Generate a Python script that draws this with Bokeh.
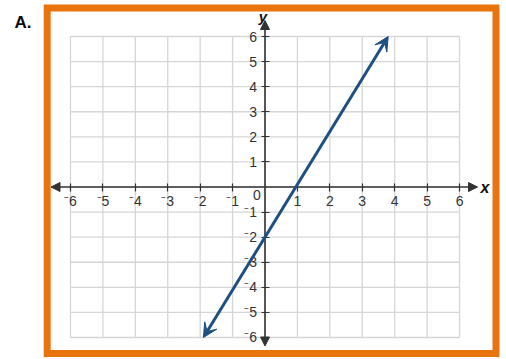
from bokeh.plotting import figure
from bokeh.models import Arrow, NormalHead, VeeHead, ColumnDataSource, FixedTicker, Label
from bokeh.embed import file_html
from bokeh.resources import INLINE

# ---- data -------------------------------------------------------------
x_ticks = [-6, -5, -4, -3, -2, -1, 0, 1, 2, 3, 4, 5, 6]
y_ticks = [-6, -5, -4, -3, -2, -1, 0, 1, 2, 3, 4, 5, 6]
line_x = [-1.9, 3.8]      # ends of the graphed line (arrow tips)
line_y = [-6.0, 6.0]
panel_label = "A."

# ---- layout -----------------------------------------------------------
W, H = 506, 359
X0_PX, X_UNIT = 264.5, 32.42   # pixel of x=0 and pixels per unit
Y0_PX, Y_UNIT = 186.5, 25.08   # pixel of y=0 (from top) and pixels per unit


def xd(px):
    return (px - X0_PX) / X_UNIT


def yd(py):
    return (Y0_PX - py) / Y_UNIT


AXIS_COLOR = "#333333"
GRID_COLOR = "#d6d6d6"
LINE_COLOR = "#1d4f82"
ORANGE = "#e9730d"
FONT = "Liberation Sans"


def tick_label(t):
    # negative numbers use a raised minus sign
    return "\u207b%d" % (-t) if t < 0 else "%d" % t


p = figure(width=W, height=H, x_range=(xd(0), xd(W)), y_range=(yd(H), yd(0)),
           min_border=0, toolbar_location=None, output_backend="svg",
           outline_line_color=None, background_fill_color="white",
           border_fill_color="white")
p.grid.visible = False

# grid cells from -6..6
gmin, gmax = x_ticks[0], x_ticks[-1]
hmin, hmax = y_ticks[0], y_ticks[-1]
p.segment(x0=x_ticks, y0=[hmin] * len(x_ticks), x1=x_ticks, y1=[hmax] * len(x_ticks),
          line_color=GRID_COLOR, line_width=1.3)
p.segment(x0=[gmin] * len(y_ticks), y0=y_ticks, x1=[gmax] * len(y_ticks), y1=y_ticks,
          line_color=GRID_COLOR, line_width=1.3)

# axes through the origin
nonzero_x = [t for t in x_ticks if t != 0]
nonzero_y = [t for t in y_ticks if t != 0]
for ax, ticks in ((p.xaxis, nonzero_x), (p.yaxis, nonzero_y)):
    ax.fixed_location = 0
    ax.ticker = FixedTicker(ticks=ticks)
    ax.major_label_overrides = {t: tick_label(t) for t in ticks}
    ax.axis_line_alpha = 0
    ax.major_tick_in = 4
    ax.major_tick_out = 4
    ax.major_tick_line_color = AXIS_COLOR
    ax.major_tick_line_width = 1.2
    ax.minor_tick_line_color = None
    ax.major_label_text_font = FONT
    ax.major_label_text_font_size = "14px"
    ax.major_label_text_color = AXIS_COLOR
p.xaxis.major_label_standoff = 2
p.yaxis.major_label_standoff = 4

# axis lines with arrowheads
p.add_layout(Arrow(start=NormalHead(size=9, fill_color=AXIS_COLOR, line_color=AXIS_COLOR),
                   end=NormalHead(size=9, fill_color=AXIS_COLOR, line_color=AXIS_COLOR),
                   x_start=xd(50.5), y_start=0, x_end=xd(477), y_end=0,
                   line_color=AXIS_COLOR, line_width=1.6))
p.add_layout(Arrow(start=NormalHead(size=9, fill_color=AXIS_COLOR, line_color=AXIS_COLOR),
                   end=NormalHead(size=9, fill_color=AXIS_COLOR, line_color=AXIS_COLOR),
                   x_start=0, y_start=yd(345.5), x_end=0, y_end=yd(20),
                   line_color=AXIS_COLOR, line_width=1.6))

# origin label and axis names
p.add_layout(Label(x=0, y=0, x_offset=-8, y_offset=-8, text="0", text_align="center",
                   text_baseline="middle", text_font=FONT, text_font_size="14px",
                   text_color=AXIS_COLOR))
p.add_layout(Label(x=xd(480), y=0, text="x", text_align="left", text_baseline="middle",
                   text_font=FONT, text_font_size="16px", text_font_style="bold italic",
                   text_color="#111111"))
p.add_layout(Label(x=xd(262.5), y=yd(15.5), text="y", text_align="center",
                   text_baseline="alphabetic", text_font=FONT, text_font_size="15px",
                   text_font_style="bold italic", text_color="#111111"))

# the graphed line, arrows at both ends
src = ColumnDataSource(dict(x0=[line_x[0]], y0=[line_y[0]], x1=[line_x[1]], y1=[line_y[1]]))
p.add_layout(Arrow(start=VeeHead(size=14, fill_color=LINE_COLOR, line_color=LINE_COLOR),
                   end=VeeHead(size=14, fill_color=LINE_COLOR, line_color=LINE_COLOR),
                   x_start="x0", y_start="y0", x_end="x1", y_end="y1", source=src,
                   line_color=LINE_COLOR, line_width=3))

# orange frame and panel letter
p.quad(left=[xd(46.7)], right=[xd(495.5)], top=[yd(7.5)], bottom=[yd(353)],
       fill_color=None, line_color=ORANGE, line_width=7, line_join="miter")
p.add_layout(Label(x=xd(14), y=yd(21.5), text=panel_label, text_align="left",
                   text_baseline="alphabetic", text_font=FONT, text_font_size="17px",
                   text_font_style="bold", text_color="#0a0a0a"))

open("out.html", "w").write(file_html(p, INLINE))
